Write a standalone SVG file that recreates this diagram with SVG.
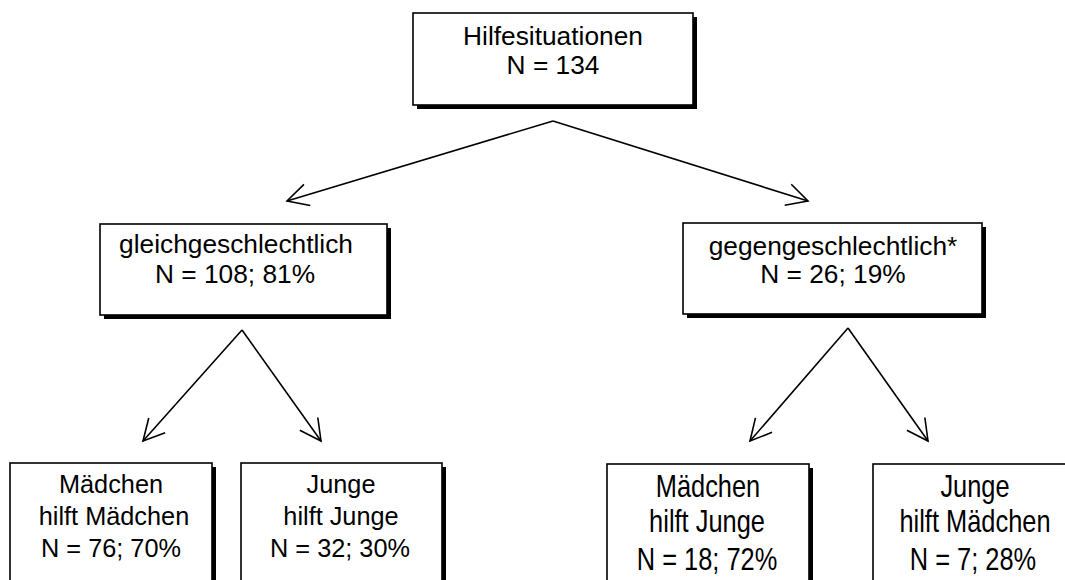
<svg xmlns="http://www.w3.org/2000/svg" width="1065" height="580" viewBox="0 0 1065 580">
<style>
.shadow{fill:#000}
.box{fill:#fff;stroke:#000;stroke-width:1.6}
.t{font-family:"Liberation Sans",Arial,sans-serif;fill:#000;text-anchor:middle}
.m{font-size:26.3px}
.s{font-size:25.3px}
.n{font-size:31px}
.conn line{stroke:#000;stroke-width:1.6;fill:none}
</style>
<defs>
<marker id="ah" markerUnits="userSpaceOnUse" orient="auto" viewBox="-26 -15 30 30" refX="0" refY="0" markerWidth="30" markerHeight="30">
<path d="M-21,-11 L0,0 L-21,11" fill="none" stroke="#000" stroke-width="1.6"/>
</marker>
</defs>
<rect width="1065" height="580" fill="#fff"/>
<g id="conn" class="conn">
<line x1="553" y1="121" x2="287" y2="201" marker-end="url(#ah)"/>
<line x1="553" y1="121" x2="808" y2="201" marker-end="url(#ah)"/>
<line x1="242" y1="330" x2="143" y2="441" marker-end="url(#ah)"/>
<line x1="242" y1="330" x2="321" y2="441" marker-end="url(#ah)"/>
<line x1="848" y1="328" x2="750" y2="441" marker-end="url(#ah)"/>
<line x1="848" y1="328" x2="928" y2="441" marker-end="url(#ah)"/>
</g>
<g id="hilfesituationen">
<rect class="shadow" x="417" y="17" width="280" height="92"/>
<rect class="box" x="413" y="13" width="280" height="92"/>
<text class="t m" x="553" y="45">Hilfesituationen</text>
<text class="t m" x="553" y="74">N = 134</text>
</g>
<g id="gleichgeschlechtlich">
<rect class="shadow" x="104" y="228" width="287" height="91"/>
<rect class="box" x="100" y="224" width="287" height="91"/>
<text class="t m" x="236" y="253">gleichgeschlechtlich</text>
<text class="t m" x="235" y="283">N = 108; 81%</text>
</g>
<g id="gegengeschlechtlich">
<rect class="shadow" x="687" y="227" width="299" height="91"/>
<rect class="box" x="683" y="223" width="299" height="91"/>
<text class="t m" x="833" y="255">gegengeschlechtlich*</text>
<text class="t m" x="833" y="283">N = 26; 19%</text>
</g>
<g id="maedchen-maedchen">
<rect class="shadow" x="14" y="467" width="202" height="130"/>
<rect class="box" x="10" y="463" width="202" height="130"/>
<text class="t s" x="111" y="493">Mädchen</text>
<text class="t s" x="114" y="525">hilft Mädchen</text>
<text class="t s" x="111" y="557">N = 76; 70%</text>
</g>
<g id="junge-junge">
<rect class="shadow" x="245" y="467" width="201" height="130"/>
<rect class="box" x="241" y="463" width="201" height="130"/>
<text class="t s" x="341" y="493">Junge</text>
<text class="t s" x="341" y="525">hilft Junge</text>
<text class="t s" x="340" y="557">N = 32; 30%</text>
</g>
<g id="maedchen-junge">
<rect class="shadow" x="611" y="468" width="202" height="130"/>
<rect class="box" x="607" y="464" width="202" height="130"/>
<text class="t n" transform="translate(708,497) scale(0.82,1)">Mädchen</text>
<text class="t n" transform="translate(707,532) scale(0.82,1)">hilft Junge</text>
<text class="t n" transform="translate(707,570) scale(0.82,1)">N = 18; 72%</text>
</g>
<g id="junge-maedchen">
<rect class="shadow" x="877" y="468" width="204" height="130"/>
<rect class="box" x="873" y="464" width="204" height="130"/>
<text class="t n" transform="translate(975,497) scale(0.82,1)">Junge</text>
<text class="t n" transform="translate(975,532) scale(0.82,1)">hilft Mädchen</text>
<text class="t n" transform="translate(973,570) scale(0.82,1)">N = 7; 28%</text>
</g>
</svg>
